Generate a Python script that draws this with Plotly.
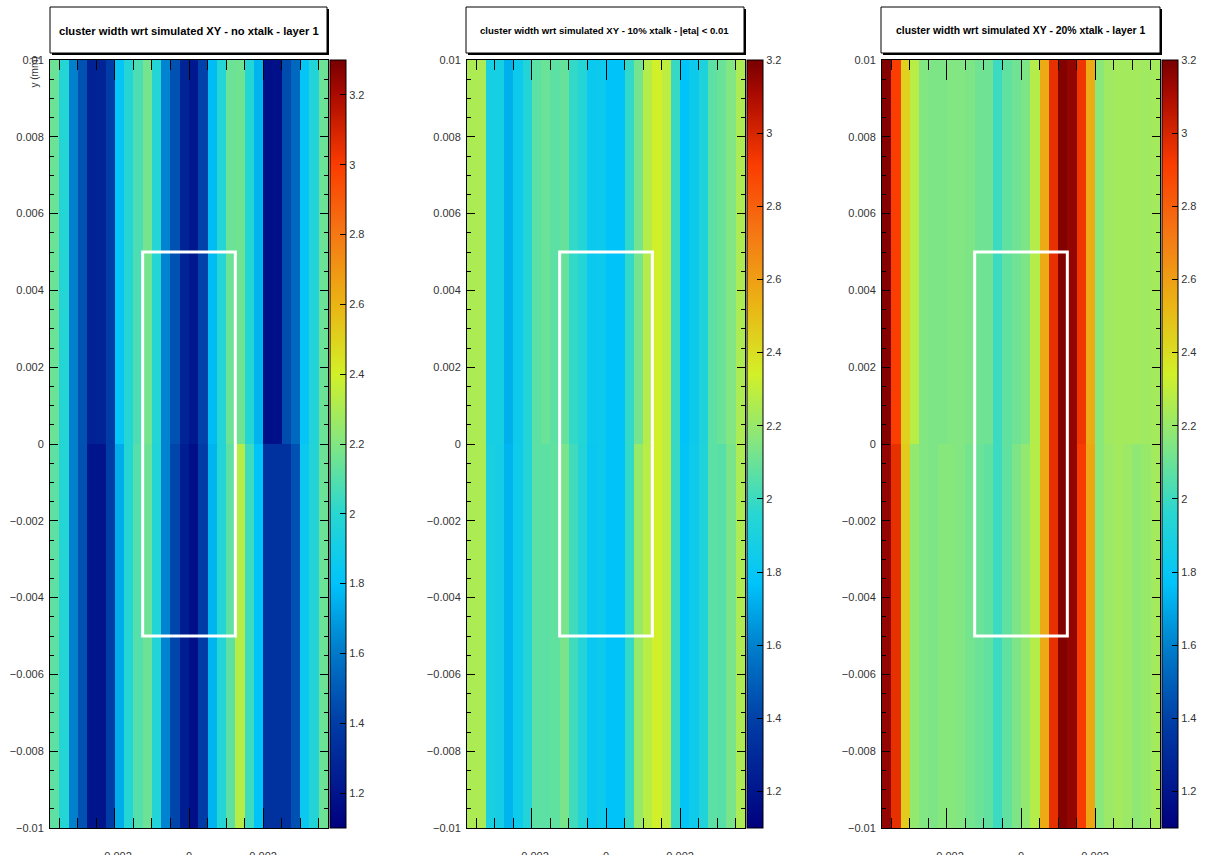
import plotly.graph_objects as go

W, H = 1209, 855

# ---------------- data ----------------
x_edges = [round(-0.00375 + 0.00025 * i, 6) for i in range(31)]
y_edges = [-0.01, 0.0, 0.01]

# panel 1: no xtalk - layer 1
p1_top = [2.15, 1.98, 1.62, 1.47, 1.27, 1.28, 1.40, 1.82, 1.98, 2.08,
          2.17, 1.98, 1.63, 1.47, 1.28, 1.22, 1.42, 1.78, 1.98, 2.15,
          2.16, 1.98, 1.76, 1.17, 1.18, 1.45, 1.55, 1.82, 1.97, 2.15]
p1_bot = [2.12, 1.98, 1.62, 1.47, 1.20, 1.20, 1.40, 1.74, 1.98, 2.10,
          2.15, 1.97, 1.63, 1.43, 1.25, 1.17, 1.40, 1.76, 1.98, 2.12,
          2.33, 2.05, 1.80, 1.35, 1.35, 1.35, 1.47, 1.85, 1.97, 2.15]

# panel 2: 10% xtalk - |eta| < 0.01
p2_top = [2.25, 2.25, 1.88, 1.88, 1.72, 1.83, 1.93, 2.07, 2.10, 2.07,
          2.09, 1.98, 1.94, 1.82, 1.83, 1.77, 1.77, 1.98, 2.12, 2.27,
          2.34, 2.29, 1.99, 1.77, 1.83, 1.91, 2.07, 2.10, 2.15, 2.25]
p2_bot = [2.25, 2.25, 1.89, 1.87, 1.73, 1.84, 1.93, 2.07, 2.07, 2.08,
          2.13, 2.01, 1.93, 1.81, 1.83, 1.77, 1.77, 1.98, 2.20, 2.28,
          2.34, 2.29, 1.99, 1.78, 1.84, 1.92, 2.07, 2.06, 2.13, 2.25]

# panel 3: 20% xtalk - layer 1
p3_top = [3.18, 2.91, 2.44, 2.28, 2.15, 2.14, 2.14, 2.15, 2.15, 2.14,
          2.11, 2.11, 2.00, 2.08, 2.11, 2.14, 2.27, 2.56, 2.96, 3.18,
          3.15, 2.94, 2.56, 2.17, 2.22, 2.23, 2.23, 2.23, 2.22, 2.23]
p3_bot = [3.15, 2.96, 2.46, 2.19, 2.15, 2.14, 2.16, 2.16, 2.15, 2.12,
          2.10, 2.08, 2.00, 2.08, 2.14, 2.19, 2.27, 2.56, 2.96, 3.18,
          3.15, 2.92, 2.58, 2.17, 2.21, 2.23, 2.21, 2.18, 2.20, 2.23]

titles = ["cluster width wrt simulated XY - no xtalk - layer 1",
          "cluster width wrt simulated XY - 10% xtalk - |eta| < 0.01",
          "cluster width wrt simulated XY - 20% xtalk - layer 1"]
z_ranges = [(1.10, 3.30), (1.10, 3.20), (1.10, 3.20)]
panels = [(p1_bot, p1_top), (p2_bot, p2_top), (p3_bot, p3_top)]

# ---------------- style ----------------
cscale = [
    [0.000, "rgb(0,0,125)"],
    [0.045, "rgb(0,20,140)"],
    [0.136, "rgb(0,60,165)"],
    [0.227, "rgb(0,120,200)"],
    [0.318, "rgb(0,195,250)"],
    [0.409, "rgb(40,215,210)"],
    [0.500, "rgb(130,230,130)"],
    [0.591, "rgb(210,240,40)"],
    [0.682, "rgb(235,180,20)"],
    [0.773, "rgb(245,120,20)"],
    [0.864, "rgb(250,60,0)"],
    [0.955, "rgb(170,10,0)"],
    [1.000, "rgb(120,0,0)"],
]

plot_left = [50, 467, 882]
plot_w = 278
plot_top, plot_bot = 60, 828
box_x = [(50, 327), (466, 744), (881, 1160)]
title_sizes = [11.2, 9.6, 10.4]

def px(xp):
    return xp / W

def py(yp):
    return 1 - yp / H

FONT = "Liberation Sans, Arial, Helvetica, sans-serif"

fig = go.Figure()
shapes = []
annotations = []
layout = dict(width=W, height=H, margin=dict(l=0, r=0, t=0, b=0, autoexpand=False),
              paper_bgcolor="white", plot_bgcolor="white",
              font=dict(family=FONT, size=11, color="#333333"),
              showlegend=False)

for i in range(3):
    sfx = "" if i == 0 else str(i + 1)
    xa, ya, ca = "x" + sfx, "y" + sfx, "coloraxis" + sfx
    bot, top = panels[i]
    fig.add_trace(go.Heatmap(x=x_edges, y=y_edges, z=[bot, top],
                             coloraxis=ca, xaxis=xa, yaxis=ya,
                             hoverinfo="skip"))
    x0 = plot_left[i]
    layout["xaxis" + sfx] = dict(
        domain=[px(x0), px(x0 + plot_w)], range=[-0.00375, 0.00375],
        anchor=ya, tickmode="linear", tick0=0, dtick=0.002,
        ticks="inside", ticklen=20, tickcolor="black", tickwidth=1,
        minor=dict(dtick=0.0005, tick0=0, ticks="inside", ticklen=10,
                   tickcolor="black", tickwidth=1),
        showline=True, linecolor="black", linewidth=1, mirror="allticks",
        showgrid=False, zeroline=False, ticklabelstandoff=18, automargin=False,
        tickfont=dict(size=11, color="#333333", family=FONT))
    layout["yaxis" + sfx] = dict(
        domain=[py(plot_bot), py(plot_top)], range=[-0.01, 0.01],
        anchor=xa, tickmode="linear", tick0=0, dtick=0.002,
        ticks="inside", ticklen=8, tickcolor="black", tickwidth=1,
        minor=dict(dtick=0.0005, tick0=0, ticks="inside", ticklen=4,
                   tickcolor="black", tickwidth=1),
        showline=True, linecolor="black", linewidth=1, mirror="allticks",
        showgrid=False, zeroline=False, ticklabelstandoff=3, automargin=False,
        tickfont=dict(size=11, color="#333333", family=FONT))
    zmin, zmax = z_ranges[i]
    layout[ca] = dict(
        cmin=zmin, cmax=zmax, colorscale=cscale,
        colorbar=dict(x=px(x0 + plot_w + 2), xanchor="left", xref="paper",
                      y=(py(plot_bot) + py(plot_top)) / 2, yanchor="middle",
                      len=(plot_bot - plot_top) / H, lenmode="fraction",
                      thickness=16, thicknessmode="pixels",
                      outlinewidth=1, outlinecolor="black",
                      ticks="inside", ticklen=6, tickcolor="black",
                      tickmode="linear", tick0=1.2, dtick=0.2,
                      xpad=0, ypad=0,
                      tickfont=dict(size=11, color="#333333", family=FONT)))
    # white rectangle
    shapes.append(dict(type="rect", xref=xa, yref=ya,
                       x0=-0.00125, x1=0.00125, y0=-0.005, y1=0.005,
                       line=dict(color="white", width=3), layer="above"))
    # title box with shadow
    bx0, bx1 = box_x[i]
    by0, by1 = 7, 53
    shapes.append(dict(type="rect", xref="paper", yref="paper",
                       x0=px(bx0 + 2), x1=px(bx1 + 2), y0=py(by1 + 2), y1=py(by0 + 2),
                       fillcolor="black", line=dict(width=0), layer="above"))
    shapes.append(dict(type="rect", xref="paper", yref="paper",
                       x0=px(bx0), x1=px(bx1), y0=py(by1), y1=py(by0),
                       fillcolor="white", line=dict(color="black", width=1),
                       layer="above"))
    annotations.append(dict(text="<b>" + titles[i] + "</b>", xref="paper", yref="paper",
                            x=px((bx0 + bx1) / 2), y=py(31), showarrow=False,
                            xanchor="center", yanchor="middle",
                            font=dict(size=title_sizes[i], color="black", family=FONT)))

annotations.append(dict(text="y (mm)", xref="paper", yref="paper",
                        x=px(34), y=py(55), textangle=-90, showarrow=False,
                        xanchor="center", yanchor="top",
                        font=dict(size=10, color="#333333", family=FONT)))

layout["shapes"] = shapes
layout["annotations"] = annotations
fig.update_layout(**layout)
fig.write_html("out.html", config={"displayModeBar": False},
               post_script="document.body.style.margin='0';document.body.style.overflow='hidden';")
